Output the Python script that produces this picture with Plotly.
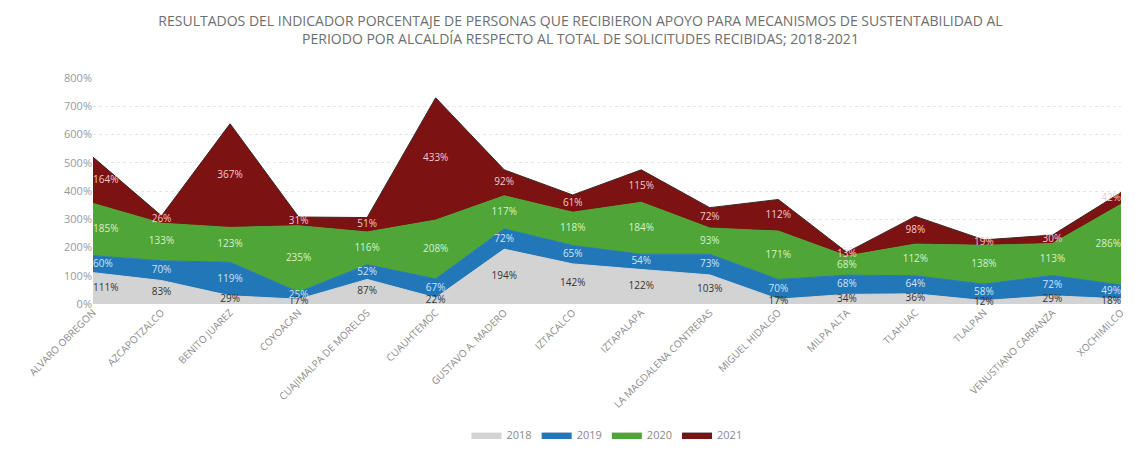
import plotly.graph_objects as go

alcaldias = ["ALVARO OBREGON", "AZCAPOTZALCO", "BENITO JUAREZ", "COYOACAN",
             "CUAJIMALPA DE MORELOS", "CUAUHTEMOC", "GUSTAVO A. MADERO", "IZTACALCO",
             "IZTAPALAPA", "LA MAGDALENA CONTRERAS", "MIGUEL HIDALGO", "MILPA ALTA",
             "TLAHUAC", "TLALPAN", "VENUSTIANO CARRANZA", "XOCHIMILCO"]

v2018 = [111, 83, 29, 17, 87, 22, 194, 142, 122, 103, 17, 34, 36, 12, 29, 18]
v2019 = [60, 70, 119, 25, 52, 67, 72, 65, 54, 73, 70, 68, 64, 58, 72, 49]
v2020 = [185, 133, 123, 235, 116, 208, 117, 118, 184, 93, 171, 68, 112, 138, 113, 286]
v2021 = [164, 26, 367, 31, 51, 433, 92, 61, 115, 72, 112, 13, 98, 19, 30, 42]

series = [("2018", v2018, "#d3d3d3", "#333333"),
          ("2019", v2019, "#2277b8", "#cfe3f5"),
          ("2020", v2020, "#4fa636", "#d8f0cc"),
          ("2021", v2021, "#7c1212", "#f3c9cf")]

n = len(alcaldias)
positions = ["middle right"] + ["middle center"] * (n - 2) + ["middle left"]

fig = go.Figure()
base = [0] * n
for name, vals, color, txtcol in series:
    fig.add_trace(go.Scatter(
        x=alcaldias, y=vals, name=name, stackgroup="one", mode="lines",
        line=dict(color="#3a2a2a" if name == "2021" else color, width=1),
        fillcolor=color, hoverinfo="skip"))
    mids = [b + v / 2 for b, v in zip(base, vals)]
    fig.add_trace(go.Scatter(
        x=alcaldias, y=mids, mode="text", text=[f"{v}%" for v in vals],
        textposition=positions, cliponaxis=False,
        textfont=dict(color=txtcol, size=10, family="Open Sans"),
        showlegend=False, hoverinfo="skip"))
    base = [b + v for b, v in zip(base, vals)]

fig.update_layout(
    width=1145, height=454,
    paper_bgcolor="white", plot_bgcolor="white",
    font=dict(family="Open Sans", color="#8a8a8a"),
    title=dict(
        text="RESULTADOS DEL INDICADOR PORCENTAJE DE PERSONAS QUE RECIBIERON APOYO PARA MECANISMOS DE SUSTENTABILIDAD AL<br>"
             "PERIODO POR ALCALDÍA RESPECTO AL TOTAL DE SOLICITUDES RECIBIDAS; 2018-2021",
        x=0.5, xanchor="center", y=0.96, yanchor="top",
        font=dict(size=14, color="#6e6e6e")),
    margin=dict(l=85, r=32, t=70, b=154),
    legend=dict(orientation="h", x=0.5, xanchor="center", y=-0.58, yanchor="middle",
                traceorder="normal", itemwidth=30,
                font=dict(size=11, color="#8a8a8a")),
    xaxis=dict(type="category", range=[0, n - 1], tickangle=-45,
               tickfont=dict(size=10, color="#8a8a8a"), showgrid=False,
               showline=False, zeroline=False),
    yaxis=dict(range=[0, 800], dtick=100, ticksuffix="%",
               tickfont=dict(size=11, color="#9a9a9a"),
               gridcolor="#e6e6e6", griddash="dot", zeroline=False),
)

fig.write_html("out.html")
